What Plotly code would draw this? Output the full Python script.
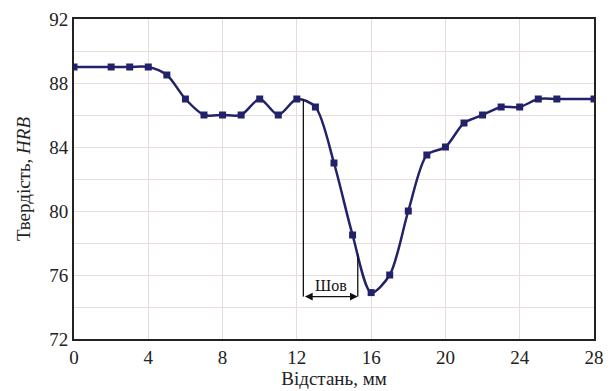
import plotly.graph_objects as go

# Data
distance_mm = [0, 2, 3, 4, 5, 6, 7, 8, 9, 10, 11, 12, 13, 14, 15, 16, 17, 18, 19, 20, 21, 22, 23, 24, 25, 26, 28]
hardness_hrb = [89, 89, 89, 89, 88.5, 87, 86, 86, 86, 87, 86, 87, 86.5, 83, 78.5, 74.9, 76, 80, 83.5, 84, 85.5, 86, 86.5, 86.5, 87, 87, 87]

x_ticks = [0, 4, 8, 12, 16, 20, 24, 28]
y_ticks = [72, 76, 80, 84, 88, 92]

seam_start = 12.35
seam_end = 15.28
seam_level = 74.65
seam_start_top = 87.0
seam_end_top = 77.3
seam_label = "Шов"

FONT = "Liberation Serif, Times New Roman, serif"
LINE_COLOR = "#22226b"
GRID_COLOR = "#e6dcdc"
AXIS_COLOR = "#222222"

fig = go.Figure()
fig.add_trace(go.Scatter(
    x=distance_mm, y=hardness_hrb,
    mode="lines+markers",
    line=dict(color=LINE_COLOR, width=2.5, shape="spline", smoothing=0.8),
    marker=dict(symbol="square", size=7, color=LINE_COLOR),
    showlegend=False,
    hoverinfo="x+y",
))

# Seam boundary lines
fig.add_shape(type="line", xref="x", yref="y", x0=seam_start, x1=seam_start,
              y0=seam_level, y1=seam_start_top, line=dict(color="#111111", width=1.3))
fig.add_shape(type="line", xref="x", yref="y", x0=seam_end, x1=seam_end,
              y0=seam_level, y1=seam_end_top, line=dict(color="#111111", width=1.3))

# Double-headed arrow
fig.add_annotation(x=seam_end, y=seam_level, ax=seam_start, ay=seam_level,
                   xref="x", yref="y", axref="x", ayref="y", text="",
                   showarrow=True, arrowhead=2, arrowside="end+start",
                   arrowsize=1.2, arrowwidth=1.3, arrowcolor="#111111")
fig.add_annotation(x=(seam_start + seam_end) / 2, y=seam_level, xref="x", yref="y",
                   text=seam_label, showarrow=False, yanchor="bottom", yshift=1,
                   font=dict(family=FONT, size=16, color="#111111"))

fig.update_layout(
    width=612, height=391,
    margin=dict(l=74, r=8, t=19, b=52),
    paper_bgcolor="white", plot_bgcolor="white",
    font=dict(family=FONT, size=19, color="#222222"),
    xaxis=dict(
        range=[0, 28], tickvals=x_ticks, ticktext=[str(v) for v in x_ticks],
        showgrid=True, gridcolor=GRID_COLOR, gridwidth=1,
        showline=True, linecolor=AXIS_COLOR, linewidth=2, mirror=True,
        ticks="", zeroline=False,
        title=dict(text="Відстань, мм", standoff=2, font=dict(family=FONT, size=19)),
        tickfont=dict(family=FONT, size=19),
    ),
    yaxis=dict(
        range=[72, 92], tickvals=y_ticks, ticktext=[str(v) for v in y_ticks],
        showgrid=True, gridcolor=GRID_COLOR, gridwidth=1,
        minor=dict(dtick=2, showgrid=True, gridcolor=GRID_COLOR, gridwidth=1, ticks=""),
        showline=True, linecolor=AXIS_COLOR, linewidth=2, mirror=True,
        ticks="", zeroline=False,
        title=dict(text="Твердість, <i>HRB</i>", standoff=14, font=dict(family=FONT, size=19)),
        tickfont=dict(family=FONT, size=19),
    ),
)

fig.write_html("out.html", config={"displayModeBar": False},
               post_script="document.body.style.margin='0';document.body.style.overflow='hidden';")
